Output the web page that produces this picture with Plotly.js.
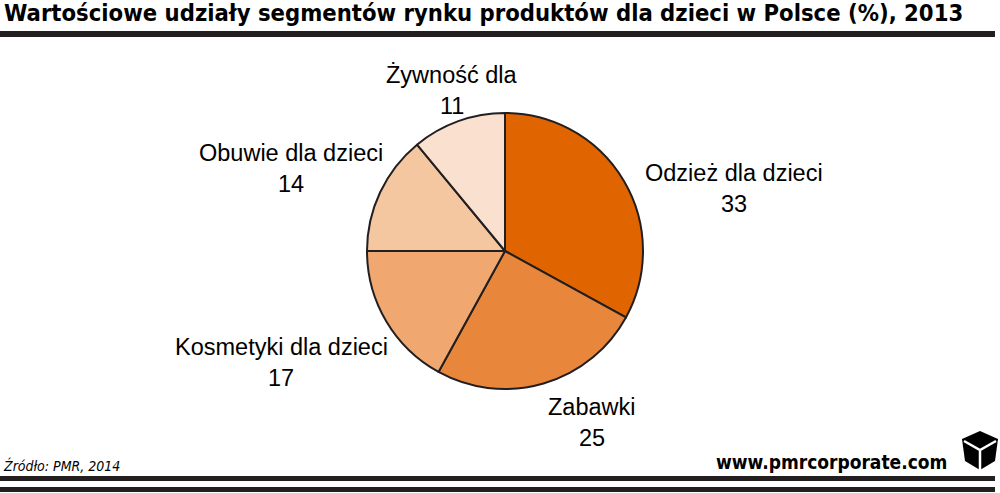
<!DOCTYPE html>
<html>
<head>
<meta charset="utf-8">
<script src="https://cdn.plot.ly/plotly-3.0.1.min.js"></script>
<style>html,body{margin:0;padding:0;background:#fff;}#chart{width:1000px;height:493px;}</style>
</head>
<body>
<div id="chart"></div>
<script>
const categories = ["Odzież dla dzieci", "Zabawki", "Kosmetyki dla dzieci", "Obuwie dla dzieci", "Żywność dla"];
const shares = [33, 25, 17, 14, 11];
const sliceColors = ["#E06400", "#E8863C", "#F0A770", "#F5C7A0", "#FAE1CF"];
const titleText = "Wartościowe udziały segmentów rynku produktów dla dzieci w Polsce (%), 2013";
const sourceText = "Źródło: PMR, 2014";
const siteText = "www.pmrcorporate.com";

// label anchor positions (px, centre of label name line) - layout only
const labelPos = [[734, 173], [592, 407], [281, 347], [291, 153], [452, 75]];
const W = 1000, H = 493;
const ink = "#231F20";
const labelFont = {family: "Liberation Sans, Arial, sans-serif", size: 23.5, color: "#000"};

const annotations = [];
categories.forEach((c, i) => {
  const [x, y] = labelPos[i];
  annotations.push({x: x / W, y: 1 - y / H, xref: "paper", yref: "paper", text: c, showarrow: false,
    font: labelFont, xanchor: "center", yanchor: "middle"});
  annotations.push({x: x / W, y: 1 - (y + 31) / H, xref: "paper", yref: "paper", text: String(shares[i]), showarrow: false,
    font: labelFont, xanchor: "center", yanchor: "middle"});
});
annotations.push({x: 2 / W, y: 1 - 13 / H, xref: "paper", yref: "paper", text: "<b>" + titleText + "</b>", showarrow: false,
  xanchor: "left", yanchor: "middle", font: {family: "DejaVu Sans Condensed, sans-serif", size: 23.6, color: "#000"}});
annotations.push({x: 1 / W, y: 1 - 465 / H, xref: "paper", yref: "paper", text: "<i>" + sourceText + "</i>", showarrow: false,
  xanchor: "left", yanchor: "middle", font: {family: "DejaVu Sans Condensed, sans-serif", size: 14, color: "#000"}});
annotations.push({x: 949 / W, y: 1 - 462 / H, xref: "paper", yref: "paper", text: "<b>" + siteText + "</b>", showarrow: false,
  xanchor: "right", yanchor: "middle", font: {family: "DejaVu Sans Condensed, sans-serif", size: 19, color: "#000"}});

function px(x, y) { return (x / W).toFixed(4) + "," + (1 - y / H).toFixed(4); }
const shapes = [
  {type: "rect", xref: "paper", yref: "paper", x0: 0, x1: 995 / W, y0: 1 - 37 / H, y1: 1 - 31 / H, fillcolor: ink, line: {width: 0}},
  {type: "rect", xref: "paper", yref: "paper", x0: 0, x1: 995 / W, y0: 1 - 481 / H, y1: 1 - 476 / H, fillcolor: ink, line: {width: 0}},
  {type: "rect", xref: "paper", yref: "paper", x0: 0, x1: 995 / W, y0: 1 - 492 / H, y1: 1 - 487 / H, fillcolor: ink, line: {width: 0}},
  // logo cube
  {type: "path", xref: "paper", yref: "paper", fillcolor: "#000", line: {width: 0},
    path: "M" + px(980, 431) + " L" + px(998, 439) + " L" + px(995, 461) + " L" + px(980, 470) + " L" + px(965, 461) + " L" + px(962, 439) + " Z"},
  {type: "path", xref: "paper", yref: "paper", line: {color: "#fff", width: 2.5},
    path: "M" + px(964, 441) + " L" + px(980, 450) + " L" + px(996, 441) + " M" + px(980, 450) + " L" + px(980, 470)}
];

const trace = {
  type: "pie",
  labels: categories,
  values: shares,
  sort: false,
  direction: "clockwise",
  rotation: 0,
  marker: {colors: sliceColors, line: {color: ink, width: 2}},
  textinfo: "none",
  hoverinfo: "label+value",
  showlegend: false,
  domain: {x: [367 / W, 643 / W], y: [1 - 389 / H, 1 - 113 / H]}
};

Plotly.newPlot("chart", [trace], {
  width: W, height: H,
  margin: {l: 0, r: 0, t: 0, b: 0},
  paper_bgcolor: "#fff",
  showlegend: false,
  annotations: annotations,
  shapes: shapes
}, {displayModeBar: false, staticPlot: true});
</script>
</body>
</html>
